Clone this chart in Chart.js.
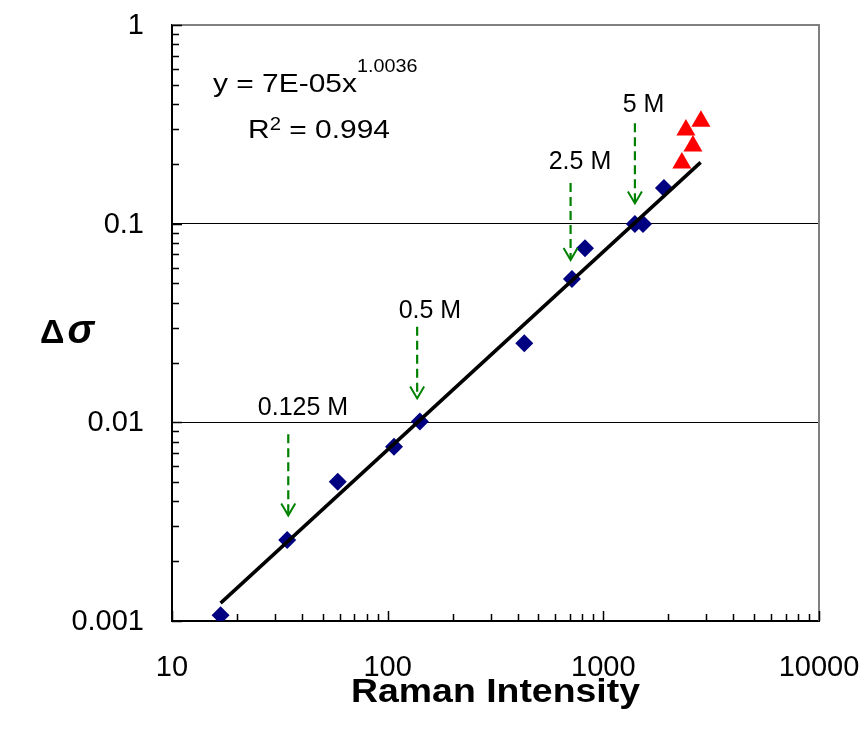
<!DOCTYPE html>
<html><head><meta charset="utf-8">
<script src="https://cdn.jsdelivr.net/npm/chart.js@4.4.1/dist/chart.umd.min.js"></script>
<style>html,body{margin:0;padding:0;background:#fff}</style>
</head><body>
<canvas id="c" width="866" height="735"></canvas>
<script>
// ---- data ----
const intensity      = [16.8, 34.2, 58.7, 107, 141, 430, 715, 822, 1400, 1527, 1910];
const deltaSigma     = [0.00107, 0.00256, 0.00502, 0.00753, 0.0101, 0.0250, 0.0526, 0.0753, 0.0995, 0.0995, 0.151];
const redIntensity   = [2313, 2415, 2603, 2835];
const redDeltaSigma  = [0.202, 0.296, 0.246, 0.328];
const fitIntensity   = [16.8, 2826];
const fitDeltaSigma  = [0.00123, 0.2035];
const arrowLabels    = ['0.125 M', '0.5 M', '2.5 M', '5 M'];
const arrowIntensity = [34.6, 137, 705, 1401];
const arrowTopSigma  = [0.0087, 0.0303, 0.160, 0.320];
const arrowTipSigma  = [0.0034, 0.0132, 0.0656, 0.1265];
const labelIntensity = [40.5, 157, 779, 1535];
const labelSigma     = [0.0118, 0.0361, 0.205, 0.395];
const xDecades    = [10, 100, 1000, 10000];
const xTickLabels = ['10', '100', '1000', '10000'];
const yDecades    = [0.001, 0.01, 0.1, 1];
const yTickLabels = ['0.001', '0.01', '0.1', '1'];
const minorSteps  = [1, 2, 3, 4, 5, 6, 7, 8, 9];
const xTitle = 'Raman Intensity';
const yTitleA = 'Δ', yTitleB = 'σ';
const eqMain = 'y = 7E-05x', eqExp = '1.0036';
const r2Main = 'R', r2Sup = '2', r2Rest = ' = 0.994';

const FONT = "'Liberation Sans', Arial, sans-serif";

function logTicks(decades) {
  const t = [];
  for (let i = 0; i < decades.length - 1; i++)
    for (const m of minorSteps) t.push({ value: m * decades[i] });
  t.push({ value: decades[decades.length - 1] });
  return t;
}
function pts(xs, ys) { return xs.map((x, i) => ({ x: x, y: ys[i] })); }

const decor = {
  id: 'decor',
  beforeDatasetsDraw(chart) {
    const { ctx, chartArea: a } = chart;
    ctx.save();
    ctx.strokeStyle = '#808080'; ctx.lineWidth = 2;
    ctx.beginPath();
    ctx.moveTo(a.left, a.top); ctx.lineTo(a.right, a.top); ctx.lineTo(a.right, a.bottom);
    ctx.stroke();
    ctx.restore();
  },
  afterDraw(chart) {
    const { ctx, chartArea: a, scales } = chart;
    const xs = scales.x, ys = scales.y;
    ctx.save();
    // inward tick marks
    ctx.strokeStyle = '#000'; ctx.lineWidth = 1.5;
    ctx.beginPath();
    for (const t of xs.ticks) {
      const px = Math.round(xs.getPixelForValue(t.value)) + 0.5;
      const len = xDecades.includes(t.value) ? 10 : 7;
      ctx.moveTo(px, a.bottom); ctx.lineTo(px, a.bottom - len);
    }
    for (const t of ys.ticks) {
      const py = Math.round(ys.getPixelForValue(t.value)) + 0.5;
      const len = yDecades.includes(t.value) ? 10 : 7;
      ctx.moveTo(a.left, py); ctx.lineTo(a.left + len, py);
    }
    ctx.stroke();

    // tick labels
    ctx.fillStyle = '#000';
    ctx.font = '29px ' + FONT;
    ctx.textBaseline = 'middle';
    ctx.textAlign = 'center';
    xDecades.forEach((v, i) => ctx.fillText(xTickLabels[i], xs.getPixelForValue(v), a.bottom + 47));
    ctx.textAlign = 'right';
    yDecades.forEach((v, i) => ctx.fillText(yTickLabels[i], a.left - 28, ys.getPixelForValue(v) + 1));

    // dashed green arrows with labels
    for (let i = 0; i < arrowLabels.length; i++) {
      const px = xs.getPixelForValue(arrowIntensity[i]);
      const pTop = ys.getPixelForValue(arrowTopSigma[i]);
      const pTip = ys.getPixelForValue(arrowTipSigma[i]);
      ctx.strokeStyle = '#008000'; ctx.lineWidth = 2.2;
      ctx.setLineDash([9, 5]);
      ctx.beginPath(); ctx.moveTo(px, pTop); ctx.lineTo(px, pTip - 1); ctx.stroke();
      ctx.setLineDash([]);
      ctx.lineWidth = 2;
      ctx.beginPath();
      ctx.moveTo(px - 7, pTip - 12); ctx.lineTo(px, pTip); ctx.lineTo(px + 7, pTip - 12);
      ctx.stroke();
      ctx.fillStyle = '#000';
      ctx.font = '25px ' + FONT;
      ctx.textAlign = 'center'; ctx.textBaseline = 'middle';
      ctx.fillText(arrowLabels[i], xs.getPixelForValue(labelIntensity[i]), ys.getPixelForValue(labelSigma[i]));
    }

    // equation text
    ctx.fillStyle = '#000';
    ctx.textAlign = 'left'; ctx.textBaseline = 'alphabetic';
    ctx.save();
    ctx.translate(213, 92); ctx.scale(1.13, 1);
    ctx.font = '26.5px ' + FONT;
    ctx.fillText(eqMain, 0, 0);
    let w = ctx.measureText(eqMain).width;
    ctx.font = '17.5px ' + FONT;
    ctx.fillText(eqExp, w, -20);
    ctx.restore();

    ctx.save();
    ctx.translate(248, 138); ctx.scale(1.13, 1);
    ctx.font = '26.5px ' + FONT;
    ctx.fillText(r2Main, 0, 0);
    w = ctx.measureText(r2Main).width;
    ctx.font = '18px ' + FONT;
    ctx.fillText(r2Sup, w, -8);
    const w2 = ctx.measureText(r2Sup).width;
    ctx.font = '26.5px ' + FONT;
    ctx.fillText(r2Rest, w + w2, 0);
    ctx.restore();

    // axis titles
    ctx.save();
    ctx.translate((a.left + a.right) / 2, 702); ctx.scale(1.1, 1);
    ctx.font = 'bold 34px ' + FONT;
    ctx.textAlign = 'center';
    ctx.fillText(xTitle, 0, 0);
    ctx.restore();

    ctx.font = 'bold 34px ' + FONT;
    ctx.textAlign = 'left';
    ctx.fillText(yTitleA, 40, 343);
    const wd = ctx.measureText(yTitleA).width;
    ctx.font = 'italic bold 40px ' + FONT;
    ctx.fillText(yTitleB, 40 + wd + 3, 343);
    ctx.restore();
  }
};

new Chart(document.getElementById('c'), {
  type: 'scatter',
  data: {
    datasets: [
      { label: 'fit', data: pts(fitIntensity, fitDeltaSigma), showLine: true,
        borderColor: '#000', borderWidth: 3.5, pointRadius: 0, fill: false },
      { label: 'data', data: pts(intensity, deltaSigma), pointStyle: 'rectRot',
        pointRadius: 9, backgroundColor: '#000080', borderColor: '#000080', borderWidth: 0 },
      { label: 'high', data: pts(redIntensity, redDeltaSigma), pointStyle: 'triangle',
        pointRadius: 11, backgroundColor: '#ff0000', borderColor: '#ff0000', borderWidth: 0 }
    ]
  },
  options: {
    responsive: false, animation: false,
    layout: { padding: { top: 25, right: 47, bottom: 0, left: 0 } },
    plugins: { legend: { display: false }, tooltip: { enabled: false } },
    scales: {
      x: {
        type: 'logarithmic', position: 'bottom', min: 10, max: 10000,
        afterBuildTicks: s => { s.ticks = logTicks(xDecades); },
        afterFit: s => { s.height = 114; },
        grid: { display: false, drawTicks: false },
        border: { display: true, color: '#000', width: 2 },
        ticks: { display: false, autoSkip: false }
      },
      y: {
        type: 'logarithmic', position: 'left', min: 0.001, max: 1,
        afterBuildTicks: s => { s.ticks = logTicks(yDecades); },
        afterFit: s => { s.width = 172; },
        grid: {
          drawTicks: false, lineWidth: 1,
          color: c => (c.tick && (c.tick.value === 0.01 || c.tick.value === 0.1)) ? '#000' : 'rgba(0,0,0,0)'
        },
        border: { display: true, color: '#000', width: 2 },
        ticks: { display: false, autoSkip: false }
      }
    }
  },
  plugins: [decor]
});
</script>
</body></html>
